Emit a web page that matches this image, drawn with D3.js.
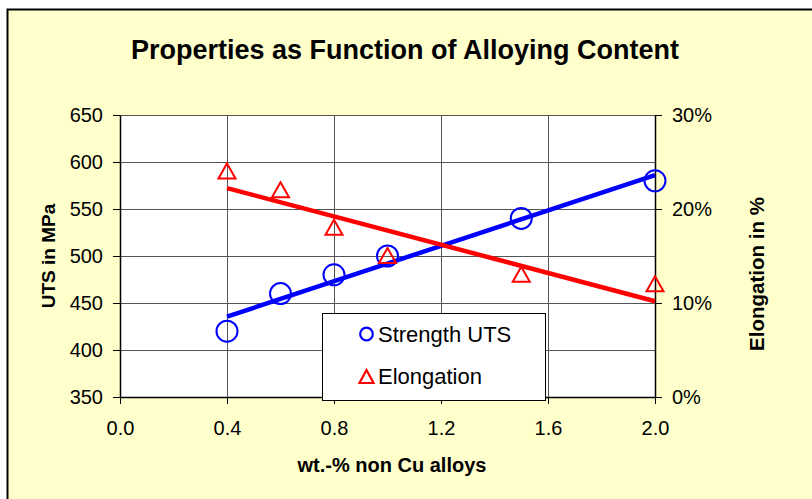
<!DOCTYPE html>
<html>
<head>
<meta charset="utf-8">
<script src="https://cdn.jsdelivr.net/npm/d3@7"></script>
<style>
  body { margin: 0; background: #fff; }
  text { font-family: "Liberation Sans", Arial, sans-serif; fill: #000; }
</style>
</head>
<body>
<div id="graph"></div>
<script>
// data
let alloy = [0.4, 0.6, 0.8, 1.0, 1.5, 2.0];
let uts = [420, 460, 480, 500, 540, 580];
let elong = [0.24, 0.22, 0.18, 0.15, 0.13, 0.12];
let xTicks = [0.0, 0.4, 0.8, 1.2, 1.6, 2.0];
let utsTicks = [350, 400, 450, 500, 550, 600, 650];
let elongTicks = [0, 0.1, 0.2, 0.3];

let w = 812;
let h = 499;
let pLeft = 120, pRight = 655, pTop = 115, pBottom = 397;

const svg = d3.select("#graph")
              .append("svg")
              .attr("width", w)
              .attr("height", h);

// chart area
svg.append("rect")
   .attr("x", 7.5).attr("y", 9.5)
   .attr("width", 820).attr("height", 500)
   .attr("fill", "#ffffcc")
   .attr("stroke", "#000")
   .attr("stroke-width", 2);

const xScale = d3.scaleLinear().domain([0, 2]).range([pLeft, pRight]);
const yScale = d3.scaleLinear().domain([350, 650]).range([pBottom, pTop]);
const y2Scale = d3.scaleLinear().domain([0, 0.3]).range([pBottom, pTop]);

svg.append("rect")
   .attr("x", pLeft).attr("y", pTop)
   .attr("width", pRight - pLeft).attr("height", pBottom - pTop)
   .attr("fill", "#fff");

// grid
svg.append("g")
   .selectAll("line")
   .data(utsTicks.slice(1))
   .join("line")
   .attr("x1", pLeft).attr("x2", pRight)
   .attr("y1", d => Math.round(yScale(d)) + 0.5)
   .attr("y2", d => Math.round(yScale(d)) + 0.5)
   .attr("stroke", "#555");

svg.append("g")
   .selectAll("line")
   .data(xTicks.slice(1))
   .join("line")
   .attr("y1", pTop).attr("y2", pBottom)
   .attr("x1", d => Math.round(xScale(d)) + 0.5)
   .attr("x2", d => Math.round(xScale(d)) + 0.5)
   .attr("stroke", "#555");

// axes
const xAxis = d3.axisBottom(xScale)
                .tickValues(xTicks)
                .tickFormat(d3.format(".1f"))
                .tickSize(7)
                .tickSizeOuter(0)
                .tickPadding(17);

const yAxis = d3.axisLeft(yScale)
                .tickValues(utsTicks)
                .tickSize(7)
                .tickSizeOuter(0)
                .tickPadding(10);

const y2Axis = d3.axisRight(y2Scale)
                 .tickValues(elongTicks)
                 .tickFormat(d3.format(".0%"))
                 .tickSize(7)
                 .tickSizeOuter(0)
                 .tickPadding(10);

svg.append("g")
   .attr("id", "x-axis")
   .attr("transform", "translate(0," + pBottom + ")")
   .call(xAxis);

svg.append("g")
   .attr("id", "y-axis")
   .attr("transform", "translate(" + pLeft + ",0)")
   .call(yAxis);

svg.append("g")
   .attr("id", "y2-axis")
   .attr("transform", "translate(" + pRight + ",0)")
   .call(y2Axis);

svg.selectAll(".domain").attr("stroke", "#000").attr("stroke-width", 1.5);
svg.selectAll(".tick line").attr("stroke", "#000");
svg.selectAll(".tick text")
   .style("font-size", "20px")
   .style("font-family", "'Liberation Sans', Arial, sans-serif");
svg.select("#x-axis").selectAll(".tick text").attr("dy", "0.71em");

// trendlines (least squares, as the spreadsheet draws them)
function fit(xs, ys) {
  let mx = d3.mean(xs), my = d3.mean(ys);
  let sxy = d3.sum(xs, (x, i) => (x - mx) * (ys[i] - my));
  let sxx = d3.sum(xs, x => (x - mx) * (x - mx));
  let b = sxy / sxx;
  return x => my + b * (x - mx);
}
let utsFit = fit(alloy, uts);
let elongFit = fit(alloy, elong);
let ends = [d3.min(alloy), d3.max(alloy)];

svg.append("path")
   .datum(ends)
   .attr("d", d3.line().x(d => xScale(d)).y(d => yScale(utsFit(d))))
   .attr("stroke", "#0000ff")
   .attr("stroke-width", 4.5)
   .attr("fill", "none");

svg.append("path")
   .datum(ends)
   .attr("d", d3.line().x(d => xScale(d)).y(d => y2Scale(elongFit(d))))
   .attr("stroke", "#ff0000")
   .attr("stroke-width", 4.5)
   .attr("fill", "none");

// markers
let tri = "M0,-8L8.5,7L-8.5,7Z";

svg.append("g")
   .selectAll("circle")
   .data(alloy)
   .join("circle")
   .attr("cx", d => xScale(d))
   .attr("cy", (d, i) => yScale(uts[i]))
   .attr("r", 10.5)
   .attr("fill", "none")
   .attr("stroke", "#0000ff")
   .attr("stroke-width", 2);

svg.append("g")
   .selectAll("path")
   .data(alloy)
   .join("path")
   .attr("transform", (d, i) => "translate(" + xScale(d) + "," + y2Scale(elong[i]) + ")")
   .attr("d", tri)
   .attr("fill", "none")
   .attr("stroke", "#ff0000")
   .attr("stroke-width", 2);

// legend
let legend = svg.append("g").attr("transform", "translate(322,313)");
legend.append("rect")
      .attr("x", 0.5).attr("y", 0.5)
      .attr("width", 223).attr("height", 87)
      .attr("fill", "#fff")
      .attr("stroke", "#000");
legend.append("circle")
      .attr("cx", 44.5).attr("cy", 21)
      .attr("r", 6.3)
      .attr("fill", "none")
      .attr("stroke", "#0000ff")
      .attr("stroke-width", 2.2);
legend.append("path")
      .attr("transform", "translate(44.5,63.5)")
      .attr("d", "M0,-6.5L7,6.5L-7,6.5Z")
      .attr("fill", "none")
      .attr("stroke", "#ff0000")
      .attr("stroke-width", 2.2);
legend.append("text")
      .attr("x", 56).attr("y", 29)
      .style("font-size", "22px")
      .text("Strength UTS");
legend.append("text")
      .attr("x", 56).attr("y", 71)
      .style("font-size", "22px")
      .text("Elongation");

// titles
svg.append("text")
   .attr("x", 405).attr("y", 59)
   .attr("text-anchor", "middle")
   .style("font-size", "27px")
   .style("font-weight", "bold")
   .text("Properties as Function of Alloying Content");

svg.append("text")
   .attr("x", 392).attr("y", 472)
   .attr("text-anchor", "middle")
   .style("font-size", "20px")
   .style("font-weight", "bold")
   .text("wt.-% non Cu alloys");

svg.append("text")
   .attr("transform", "translate(55,256) rotate(-90)")
   .attr("text-anchor", "middle")
   .style("font-size", "19px")
   .style("font-weight", "bold")
   .text("UTS in MPa");

svg.append("text")
   .attr("transform", "translate(764,274) rotate(-90)")
   .attr("text-anchor", "middle")
   .style("font-size", "20.5px")
   .style("font-weight", "bold")
   .text("Elongation in %");
</script>
</body>
</html>
